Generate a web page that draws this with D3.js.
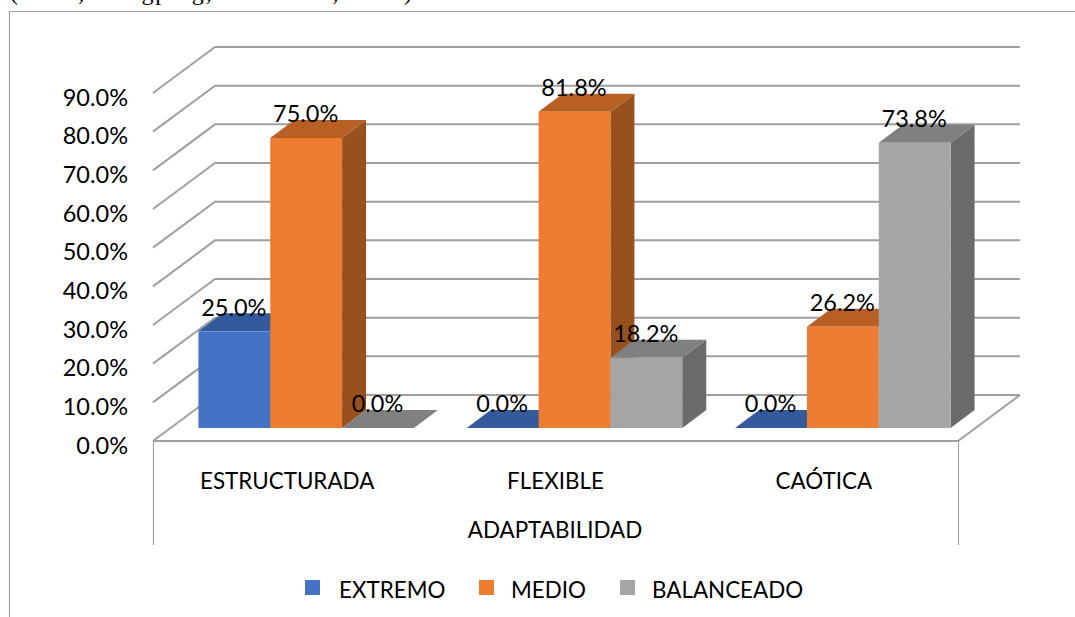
<!DOCTYPE html>
<html><head><meta charset="utf-8">
<script src="https://cdn.jsdelivr.net/npm/d3@7/dist/d3.min.js"></script>
<style>html,body{margin:0;padding:0;background:#fff;overflow:hidden}svg{display:block}text{font-family:Lato,"Open Sans",sans-serif;fill:#000}</style>
</head><body><svg id="c" width="1075" height="617"></svg>
<script>
const categories = ["ESTRUCTURADA","FLEXIBLE","CAÓTICA"];
const seriesNames = ["EXTREMO","MEDIO","BALANCEADO"];
const extremo = [25.0,0.0,0.0];
const medio = [75.0,81.8,26.2];
const balanceado = [0.0,18.2,73.8];
const seriesValues = [extremo,medio,balanceado];
const yTicks = [0,10,20,30,40,50,60,70,80,90];
const axisTitle = "ADAPTABILIDAD";
const clippedCaption = "(Lima, Hongping, setiembre, 2017)";
const colors = [
 {front:"#4472c4",top:"#355a9c",side:"#2b4a80"},
 {front:"#ed7d31",top:"#b85f24",side:"#97501e"},
 {front:"#a5a5a5",top:"#808080",side:"#6a6a6a"}];

const svg = d3.select("#c");
const grid="#a0a0a0";
const x0 = d3.scaleBand().domain(categories).range([153,958]);
const x1 = d3.scaleBand().domain(d3.range(3)).range([0,215.5]);
const yFront = d3.scaleLinear().domain([0,90]).range([441,93]);
const wallDX=62, wallDY=-46;
const barBase = 428, barDX=24, barDY=-18, barOff=19;
const yBar = d3.scaleLinear().domain([0,90]).range([barBase,barBase-348]);
const labelSize="23.5px", axisSize="22.4px";

svg.append("text").text(clippedCaption).attr("x",10).attr("y",0)
  .attr("textLength",402).attr("lengthAdjust","spacing")
  .style("font-family","'Liberation Serif',serif").style("font-size","24px");
svg.append("path").attr("d","M9.5 617V11.5H1075").attr("fill","none").attr("stroke","#a3a3a3").attr("stroke-width",1.2);

yTicks.forEach(t=>{
  const y=yFront(t);
  svg.append("path").attr("fill","none").attr("stroke",grid).attr("stroke-width",2)
   .attr("d",`M153 ${y}L${153+wallDX} ${y+wallDY}H${958+wallDX}`);
});
svg.append("path").attr("fill","none").attr("stroke",grid).attr("stroke-width",2)
  .attr("d",`M153 441H958L${958+wallDX} 395`);
svg.append("path").attr("fill","none").attr("stroke",grid).attr("stroke-width",1.2)
  .attr("d","M153.5 441V545M958.5 441V545");

const poly=(pts,fill)=>svg.append("polygon").attr("points",pts.map(p=>p.join(",")).join(" ")).attr("fill",fill);
const groupX=c=>x0(c)+(x0.bandwidth()-215.5)/2+barOff;
categories.forEach(c=>{
  const ci=categories.indexOf(c), gx=groupX(c);
  seriesValues.forEach((vals,si)=>{
    const v=vals[ci];
    const xa=gx+x1(si), xb=xa+x1.bandwidth(), yt=yBar(v), col=colors[si];
    poly([[xb,yt],[xb+barDX,yt+barDY],[xb+barDX,barBase+barDY],[xb,barBase]],col.side);
    poly([[xa,yt],[xb,yt],[xb+barDX,yt+barDY],[xa+barDX,yt+barDY]],col.top);
    if(v>0) svg.append("rect").attr("x",xa).attr("y",yt).attr("width",xb-xa).attr("height",barBase-yt).attr("fill",col.front);
  });
});
categories.forEach(c=>{
  const ci=categories.indexOf(c), gx=groupX(c);
  seriesValues.forEach((vals,si)=>{
    const v=vals[ci];
    svg.append("text").text(v.toFixed(1)+"%")
      .attr("x",gx+x1(si)+x1.bandwidth()/2-0.5)
      .attr("y",yBar(v)-24).attr("dy","0.35em")
      .attr("text-anchor","middle").style("font-size",labelSize);
  });
});

yTicks.forEach(t=>{
  svg.append("text").text(t.toFixed(1)+"%").attr("x",128).attr("y",yFront(t)+4.5).attr("dy","0.35em")
   .attr("text-anchor","end").style("font-size",labelSize);
});
categories.forEach(c=>{
  svg.append("text").text(c).attr("x",x0(c)+x0.bandwidth()/2).attr("y",489)
   .attr("text-anchor","middle").style("font-size",axisSize);
});
svg.append("text").text(axisTitle).attr("x",555).attr("y",538).attr("text-anchor","middle").style("font-size",axisSize);

const legendSwatch=[305,479,620], legendText=[339,511,652];
seriesNames.forEach((s,i)=>{
  svg.append("rect").attr("x",legendSwatch[i]).attr("y",580).attr("width",15).attr("height",15).attr("fill",colors[i].front);
  svg.append("text").text(s).attr("x",legendText[i]).attr("y",598).style("font-size",axisSize);
});
</script></body></html>
